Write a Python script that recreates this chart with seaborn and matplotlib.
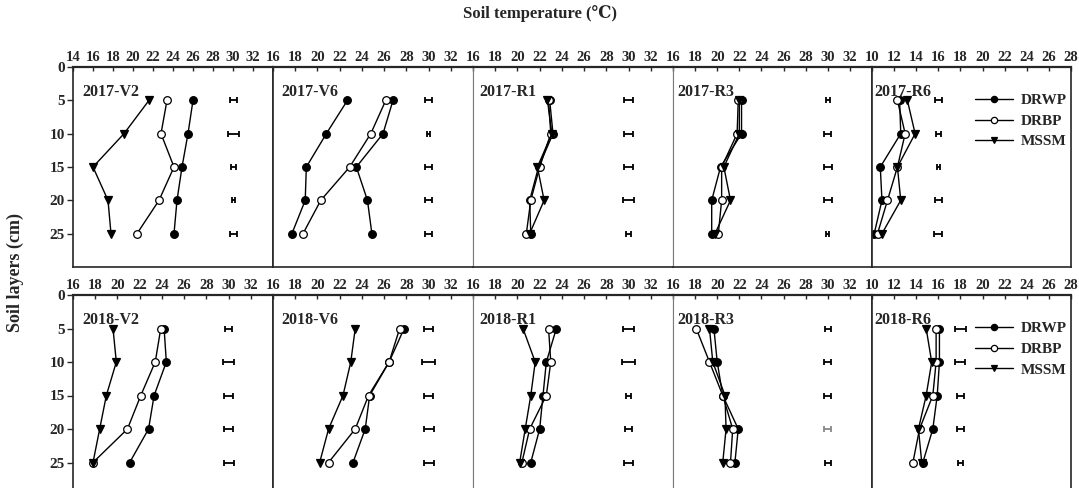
import numpy as np
import pandas as pd
import matplotlib
matplotlib.use("Agg")
import matplotlib.pyplot as plt
import seaborn as sns

sns.set_style("ticks")
plt.rcParams['font.family'] = ['Liberation Serif', 'DejaVu Serif']
plt.rcParams['font.weight'] = 'bold'

depths = [5, 10, 15, 20, 25]
series_names = ["DRWP", "DRBP", "MSSM"]

# ---- 2017 ----
panels_2017 = ["2017-V2", "2017-V6", "2017-R1", "2017-R3", "2017-R6"]
drwp_2017 = [[26.0, 25.5, 24.9, 24.4, 24.1],
             [26.8, 25.9, 23.5, 24.5, 24.9],
             [22.9, 23.2, 21.9, 21.1, 21.2],
             [22.2, 22.2, 20.3, 19.5, 19.5],
             [12.5, 12.6, 10.75, 10.9, 10.2]]
drbp_2017 = [[23.4, 22.8, 24.1, 22.6, 20.4],
             [26.15, 24.8, 22.9, 20.3, 18.7],
             [22.8, 23.0, 22.0, 21.2, 20.8],
             [21.9, 21.8, 20.4, 20.4, 20.1],
             [12.3, 13.0, 12.3, 11.4, 10.5]]
mssm_2017 = [[21.6, 19.1, 16.0, 17.5, 17.8],
             [22.7, 20.8, 19.0, 18.9, 17.7],
             [22.7, 23.1, 21.8, 22.4, 21.1],
             [22.0, 22.0, 20.6, 21.2, 19.8],
             [13.2, 13.9, 12.3, 12.6, 10.9]]
err_2017 = [[0.35, 0.55, 0.25, 0.15, 0.35],
            [0.3, 0.15, 0.35, 0.35, 0.3],
            [0.38, 0.38, 0.38, 0.53, 0.25],
            [0.2, 0.3, 0.38, 0.38, 0.15],
            [0.3, 0.2, 0.15, 0.3, 0.35]]
errx_2017 = [30, 30, 30, 30, 16]
xlims_2017 = [(14, 34), (16, 34), (16, 34), (16, 34), (10, 28)]

# ---- 2018 ----
panels_2018 = ["2018-V2", "2018-V6", "2018-R1", "2018-R3", "2018-R6"]
drwp_2018 = [[24.2, 24.4, 23.3, 22.8, 21.1],
             [27.8, 26.45, 24.7, 24.3, 23.2],
             [23.5, 22.6, 22.3, 22.0, 21.2],
             [19.7, 20.0, 20.5, 21.9, 21.6],
             [16.1, 16.1, 15.9, 15.5, 14.6]]
drbp_2018 = [[23.9, 23.4, 22.1, 20.9, 17.8],
             [27.4, 26.45, 24.6, 23.4, 21.0],
             [22.8, 23.0, 22.6, 21.1, 20.4],
             [18.1, 19.3, 20.5, 21.4, 21.2],
             [15.8, 15.8, 15.5, 14.3, 13.7]]
mssm_2018 = [[19.6, 19.9, 19.0, 18.4, 17.8],
             [23.4, 23.0, 22.3, 21.0, 20.2],
             [20.5, 21.6, 21.2, 20.7, 20.2],
             [19.3, 19.6, 20.7, 20.8, 20.5],
             [14.9, 15.4, 14.9, 14.2, 14.5]]
err_2018 = [[0.3, 0.48, 0.38, 0.38, 0.45],
            [0.4, 0.62, 0.4, 0.45, 0.45],
            [0.53, 0.6, 0.25, 0.3, 0.38],
            [0.25, 0.3, 0.3, 0.3, 0.25],
            [0.47, 0.45, 0.35, 0.3, 0.2]]
errx_2018 = [30, 30, 30, 30, 18]
xlims_2018 = [(16, 34), (16, 34), (16, 34), (16, 34), (10, 28)]

ytick_vals = [0, 5, 10, 15, 20, 25]

# ---- layout ----
W, H = 1079, 488
fig = plt.figure(figsize=(W / 100, H / 100), dpi=100)
col_px = [73, 273, 473, 673, 872, 1071]
row_px = [(67, 267), (295, 496)]  # (y of 0, y of 30)

styles = {
    "DRWP": dict(marker="o", markerfacecolor="black", markersize=5.5),
    "DRBP": dict(marker="o", markerfacecolor="white", markersize=5.5),
    "MSSM": dict(marker="v", markerfacecolor="black", markersize=6),
}
label_dx = [0.045, 0.04, 0.03, 0.02, 0.012]

rows = [
    (panels_2017, drwp_2017, drbp_2017, mssm_2017, err_2017, errx_2017, xlims_2017),
    (panels_2018, drwp_2018, drbp_2018, mssm_2018, err_2018, errx_2018, xlims_2018),
]

for r, (names, drwp, drbp, mssm, errs, errx, xlims) in enumerate(rows):
    y0, y30 = row_px[r]
    for c in range(5):
        left = col_px[c] / W
        width = (col_px[c + 1] - col_px[c]) / W
        bottom = 1 - y30 / H
        height = (y30 - y0) / H
        ax = fig.add_axes([left, bottom, width, height])
        data = {"DRWP": drwp[c], "DRBP": drbp[c], "MSSM": mssm[c]}
        for s in series_names:
            st = dict(styles[s])
            if r == 0 and c == 1 and s == "MSSM":
                st["marker"] = "o"
                st["markersize"] = 5.5
            df = pd.DataFrame({"temp": data[s], "depth": depths})
            sns.lineplot(data=df, x="temp", y="depth", orient="y", sort=False,
                         color="black", linewidth=1.0, markeredgecolor="black",
                         markeredgewidth=0.9, ax=ax, label=s, errorbar=None,
                         legend=False, **st)
        ecolors = ["black"] * 5
        if r == 1 and c == 3:
            ecolors[3] = "#888888"
        for d, e, ec in zip(depths, errs[c], ecolors):
            ax.errorbar([errx[c]], [d], xerr=[e], fmt="none", ecolor=ec,
                        elinewidth=1.3, capsize=2.4, capthick=1.3)
        ax.set_xlim(*xlims[c])
        ax.set_ylim(30, 0)
        lo, hi = xlims[c]
        last = hi if c == 4 else hi - 2
        ax.set_xticks(np.arange(lo, last + 0.5, 2))
        ax.xaxis.tick_top()
        ax.tick_params(axis="x", direction="in", length=3, width=1, pad=2,
                       labelsize=10.5)
        for t in ax.get_xticklabels():
            t.set_fontweight("bold")
        if c == 0:
            ax.set_yticks(ytick_vals)
            ax.tick_params(axis="y", direction="out", length=4, width=1,
                           labelsize=11, pad=2)
            for t in ax.get_yticklabels():
                t.set_fontweight("bold")
        else:
            ax.set_yticks([])
        ax.set_xlabel("")
        ax.set_ylabel("")
        ax.spines["top"].set_linewidth(1.6)
        ax.spines["bottom"].set_linewidth(1.2)
        for side in ("left", "right"):
            ax.spines[side].set_linewidth(1.2)
        if c in (2, 3):
            ax.spines["left"].set_color("#7a7a7a")
            ax.spines["left"].set_linewidth(0.8)
        if c in (1, 2):
            ax.spines["right"].set_color("#7a7a7a")
            ax.spines["right"].set_linewidth(0.8)
        ax.text(label_dx[c], 1 - 3.8 / 30, names[c], transform=ax.transAxes,
                ha="left", va="center", fontsize=11.5, fontweight="bold")
        if c == 4:
            handles = [h for h in ax.lines if h.get_label() in series_names]
            leg = ax.legend(handles=handles, labels=[h.get_label() for h in handles],
                            loc="upper left", bbox_to_anchor=(0.48, 0.905),
                            frameon=False, fontsize=11, handlelength=2.5,
                            handletextpad=0.5, labelspacing=0.45, borderpad=0)
            for t in leg.get_texts():
                t.set_fontweight("bold")
            for lh in leg.get_lines():
                lh.set_markersize(4.5)

fig.text(540 / W, 1 - 14 / H, "Soil temperature (℃)", ha="center", va="center",
         fontsize=12, fontweight="bold")
fig.text(15 / W, 1 - 272 / H, "Soil layers (cm)", ha="center", va="center",
         rotation=90, fontsize=13, fontweight="bold")

fig.savefig("out.png", dpi=100)
